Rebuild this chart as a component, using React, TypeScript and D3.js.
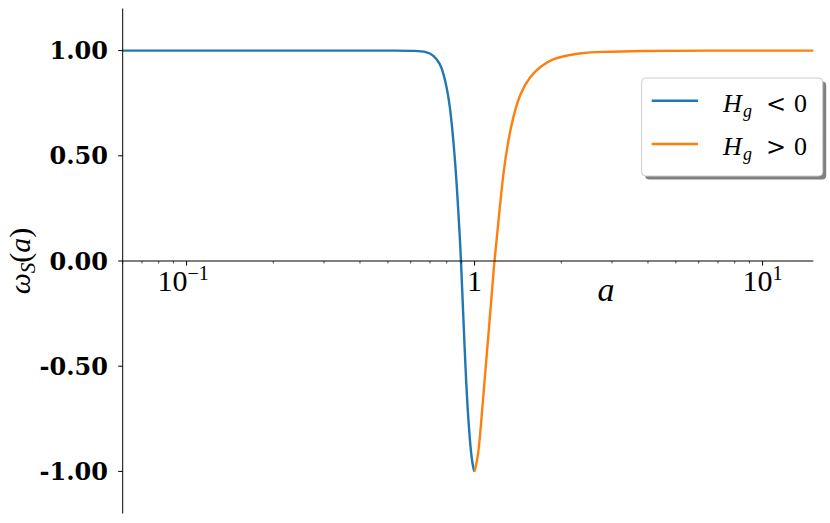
import React from "react";
import * as d3 from "d3";

// Blue branch (H_g < 0)
const blueA = [0.06, 0.1, 0.2, 0.4, 0.55, 0.62, 0.682, 0.719, 0.759, 0.779, 0.8, 0.822, 0.844, 0.862, 0.876, 0.89, 0.897, 0.914, 0.934, 0.958, 0.977, 0.995, 1.0];
const blueW = [1.0, 1.0, 1.0, 1.0, 1.0, 0.999, 0.995, 0.979, 0.939, 0.892, 0.828, 0.733, 0.575, 0.417, 0.258, 0.1, 0.0, -0.265, -0.581, -0.818, -0.945, -0.998, -1.0];
// Orange branch (H_g > 0)
const orangeA = [1.0, 1.03, 1.058, 1.093, 1.131, 1.17, 1.225, 1.257, 1.309, 1.362, 1.437, 1.556, 1.685, 1.874, 2.141, 2.319, 2.72, 3.741, 6.0, 15.0];
const orangeW = [-1.0, -0.93, -0.74, -0.502, -0.265, 0.0, 0.258, 0.417, 0.575, 0.686, 0.797, 0.876, 0.923, 0.963, 0.979, 0.988, 0.994, 0.999, 1.0, 1.0];

const yTicks = [1.0, 0.5, 0.0, -0.5, -1.0];
const yTickLabels = ["1.00", "0.50", "0.00", "-0.50", "-1.00"];
const xMajor = [0.1, 1, 10];
const xDomain = [0.06, 15];
const yDomain = [-1.2, 1.2];
const seriesRel = ["<", ">"];
const colors = ["#1f77b4", "#ff7f0e"];

const W = 830, H = 523;
const L = 122.7, R = 813.3, T = 8.5, B = 513.5;

export default function App() {
  const x = d3.scaleLog().domain(xDomain).range([L, R]);
  const y = d3.scaleLinear().domain(yDomain).range([B, T]);
  const line = d3
    .line<[number, number]>()
    .x((d) => x(d[0]))
    .y((d) => y(d[1]))
    .curve(d3.curveBasis);
  const blue = blueA.map((a, i) => [a, blueW[i]] as [number, number]);
  const orange = orangeA.map((a, i) => [a, orangeW[i]] as [number, number]);
  const y0 = y(0);

  const minor: number[] = [];
  for (let e = -2; e <= 1; e++) {
    for (let m = 2; m <= 9; m++) {
      const v = m * Math.pow(10, e);
      if (v >= xDomain[0] && v <= xDomain[1]) minor.push(v);
    }
  }

  const serifR = "'Liberation Serif', 'DejaVu Serif', serif";
  const serifB = "'DejaVu Serif', serif";

  const legendX = 641.7, legendY = 78, legendW = 181, legendH = 98;

  return (
    <svg
      width={W}
      height={H}
      style={{ position: "absolute", left: 0, top: 0, background: "#fff" }}
    >
      <rect x={0} y={0} width={W} height={H} fill="#fff" />
      {/* curves */}
      <path d={line(blue) || ""} fill="none" stroke={colors[0]} strokeWidth={2.4} strokeLinejoin="round" />
      <path d={line(orange) || ""} fill="none" stroke={colors[1]} strokeWidth={2.4} strokeLinejoin="round" />

      {/* spines */}
      <line x1={L} x2={L} y1={T} y2={B} stroke="#000" strokeWidth={1} />
      <line x1={L} x2={R} y1={y0} y2={y0} stroke="#000" strokeWidth={1} />

      {/* y ticks */}
      {yTicks.map((t, i) => (
        <g key={"y" + i}>
          <line x1={L - 4.5} x2={L} y1={y(t)} y2={y(t)} stroke="#000" strokeWidth={1} />
          <text
            x={108}
            y={y(t) + 8.5}
            textAnchor="end"
            fontFamily={serifB}
            fontWeight="bold"
            fontSize={24}
            fill="#000"
          >
            {yTickLabels[i]}
          </text>
        </g>
      ))}

      {/* x minor ticks */}
      {minor.map((v, i) => (
        <line key={"m" + i} x1={x(v)} x2={x(v)} y1={y0} y2={y0 + 2.5} stroke="#000" strokeWidth={0.7} />
      ))}
      {/* x major ticks */}
      {xMajor.map((v, i) => (
        <line key={"M" + i} x1={x(v)} x2={x(v)} y1={y0} y2={y0 + 4.5} stroke="#000" strokeWidth={1} />
      ))}
      {/* x tick labels */}
      <text x={x(0.1) - 29} y={290.7} fontFamily={serifR} fontSize={30} fill="#000">
        10
        <tspan dy={-11} fontSize={20}>−1</tspan>
      </text>
      <text x={x(1)} y={290.7} textAnchor="middle" fontFamily={serifR} fontSize={30} fill="#000">
        1
      </text>
      <text x={x(10) - 20} y={290.7} fontFamily={serifR} fontSize={30} fill="#000">
        10
        <tspan dy={-11} fontSize={20}>1</tspan>
      </text>

      {/* x label */}
      <text x={606} y={301} textAnchor="middle" fontFamily={serifR} fontStyle="italic" fontSize={34} fill="#000">
        a
      </text>

      {/* y label */}
      <text
        transform={`translate(30, ${(T + B) / 2}) rotate(-90)`}
        textAnchor="middle"
        fontFamily={serifR}
        fontSize={30}
        fill="#000"
      >
        <tspan fontStyle="italic">ω</tspan>
        <tspan fontStyle="italic" fontSize={21} dy={5}>S</tspan>
        <tspan dy={-5}>(</tspan>
        <tspan fontStyle="italic">a</tspan>
        <tspan>)</tspan>
      </text>

      {/* legend */}
      <rect x={legendX + 3.5} y={legendY + 3.5} width={legendW} height={legendH} rx={4} fill="#808080" />
      <rect x={legendX} y={legendY} width={legendW} height={legendH} rx={4} fill="#fff" stroke="#cccccc" strokeWidth={1} />
      {seriesRel.map((s, i) => {
        const ly = i === 0 ? 100.7 : 144;
        const by = ly + 11;
        return (
          <g key={"lg" + i} fontFamily={serifR} fill="#000">
            <line x1={651.7} x2={698} y1={ly} y2={ly} stroke={colors[i]} strokeWidth={2.4} />
            <text x={723} y={by} fontSize={26} fontStyle="italic">H</text>
            <text x={743} y={by + 5} fontSize={18} fontStyle="italic">g</text>
            <text x={766} y={by} fontSize={24} fontFamily="'DejaVu Serif', serif">{s}</text>
            <text x={794} y={by} fontSize={26}>0</text>
          </g>
        );
      })}
    </svg>
  );
}
